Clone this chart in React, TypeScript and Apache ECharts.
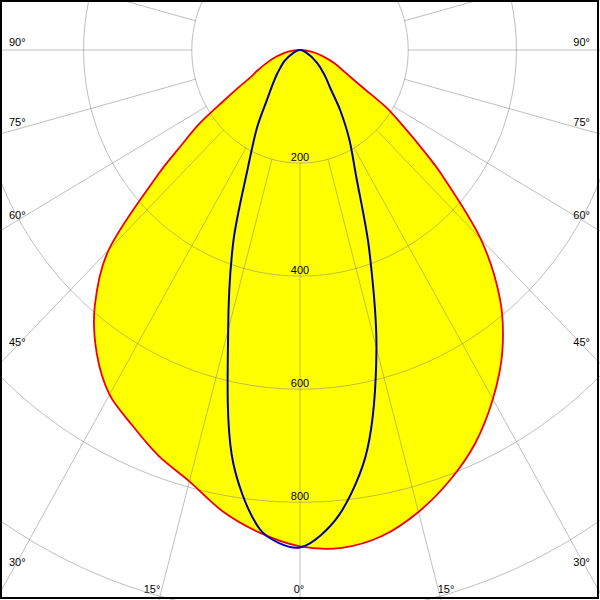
import React, { useEffect, useRef } from "react";
import * as echarts from "echarts";

// Polar angles (degrees from nadir); denser where the curves turn sharply
const angles = [0, 5, 10, 15, 20, 25, 30, 35, 40, 45, 50, 52.5, 55, 57.5, 60, 62.5, 65, 70, 75, 80, 85, 90];
// Red curve (filled): right half and left half intensities
const redRight = [878, 884, 873, 846, 810, 767, 713, 652, 575, 472, 340, 280, 230, 189, 137, 108, 90, 67, 45, 28, 13, 0];
const redLeft = [878, 857, 828, 790, 764, 733, 704, 655, 590, 500, 342, 276, 227, 167, 128, 101, 88, 64, 45, 29, 14, 0];
// Blue curve: right half and left half intensities
const blueRight = [880, 826, 717, 546, 373, 245, 182, 129, 86, 66, 50, 43, 36, 30, 25, 20, 16, 10, 6, 3, 1, 0];
const blueLeft = [880, 851, 727, 513, 360, 226, 159, 105, 78, 60, 46, 41, 36, 30, 25, 20, 16, 10, 6, 3, 1, 0];

// Grid
const ringValues = [200, 400, 600, 800, 1000];
const ringLabels = ["200", "400", "600", "800"];
const spokeAngles = [-180, -165, -150, -135, -120, -105, -90, -75, -60, -45, -30, -15, 0, 15, 30, 45, 60, 75, 90, 105, 120, 135, 150, 165];
const sideAngleLabels = ["90°", "75°", "60°", "45°", "30°"];
const bottomAngleLabels = ["15°", "0°", "15°"];

// axis extents (value units)
const X_MIN = -554.5;
const X_MAX = 554.5;
const Y_MIN = -88.45;
const Y_MAX = 972.9;

const FONT = '11px "Liberation Sans", Arial, sans-serif';
const GRID_STROKE = "rgba(128,128,128,0.5)";

export default function App() {
  const ref = useRef<HTMLDivElement>(null);

  useEffect(() => {
    document.body.style.margin = "0";
    if (!ref.current) return;
    const chart = echarts.init(ref.current, undefined, { renderer: "svg" });

    const renderItem = (params: any, api: any) => {
      const pt = (deg: number, r: number, side: number) => {
        const t = (deg * Math.PI) / 180;
        return api.coord([side * r * Math.sin(t), r * Math.cos(t)]);
      };
      const loop = (left: number[], right: number[]) => {
        const pts: number[][] = [];
        for (let i = angles.length - 1; i >= 0; i--) pts.push(pt(angles[i], left[i], -1));
        for (let i = 1; i < angles.length; i++) pts.push(pt(angles[i], right[i], 1));
        return pts;
      };
      const redPts = loop(redLeft, redRight);
      const bluePts = loop(blueLeft, blueRight);
      const o = api.coord([0, 0]);

      const rings = ringValues.map((r) => {
        const px = api.coord([r, 0]);
        const py = api.coord([0, r]);
        return {
          type: "ellipse",
          shape: { cx: o[0], cy: o[1], rx: px[0] - o[0], ry: py[1] - o[1] },
          style: { fill: "none", stroke: GRID_STROKE, lineWidth: 1 },
        };
      });
      const spokes = spokeAngles.map((a) => {
        const p1 = pt(a, 200, 1);
        const p2 = pt(a, 3000, 1);
        return {
          type: "line",
          shape: { x1: p1[0], y1: p1[1], x2: p2[0], y2: p2[1] },
          style: { stroke: GRID_STROKE, lineWidth: 1 },
        };
      });
      const labels = ringLabels.map((lab, i) => {
        const p = api.coord([0, ringValues[i]]);
        return {
          type: "text",
          x: p[0],
          y: p[1] - 6,
          style: {
            text: lab,
            font: FONT,
            fill: "#000",
            align: "center",
            verticalAlign: "middle",
            textAlign: "center",
            textVerticalAlign: "middle",
          },
        };
      });

      return {
        type: "group",
        children: [
          {
            type: "polygon",
            shape: { points: redPts, smooth: 0.3 },
            style: { fill: "#ffff00", stroke: "none" },
          },
          ...rings,
          ...spokes,
          ...labels,
          {
            type: "polygon",
            shape: { points: redPts, smooth: 0.3 },
            style: { fill: "none", stroke: "#ee0000", lineWidth: 1.8 },
          },
          {
            type: "polygon",
            shape: { points: bluePts, smooth: 0.3 },
            style: { fill: "none", stroke: "#0000b0", lineWidth: 2 },
          },
        ],
      };
    };

    const sideY = [42, 122, 215, 342, 562];
    const bottomX = [152, 299, 446];
    const textStyle = (text: string, align: string) => ({
      text,
      font: FONT,
      fill: "#000",
      align,
      verticalAlign: "middle",
      textAlign: align,
      textVerticalAlign: "middle",
    });
    const graphics: any[] = [];
    sideAngleLabels.forEach((t, i) => {
      graphics.push({ type: "text", x: 9, y: sideY[i], style: textStyle(t, "left") });
      graphics.push({ type: "text", x: 590, y: sideY[i], style: textStyle(t, "right") });
    });
    bottomAngleLabels.forEach((t, i) => {
      graphics.push({ type: "text", x: bottomX[i], y: 589, style: textStyle(t, "center") });
    });
    graphics.push({
      type: "rect",
      z: 100,
      shape: { x: 1, y: 1, width: 597, height: 597 },
      style: { fill: "none", stroke: "#000", lineWidth: 2 },
    });

    chart.setOption({
      animation: false,
      backgroundColor: "#ffffff",
      grid: { left: 0, top: 0, width: 600, height: 600 },
      xAxis: { type: "value", min: X_MIN, max: X_MAX, show: false },
      yAxis: { type: "value", min: Y_MIN, max: Y_MAX, inverse: true, show: false },
      series: [
        {
          type: "custom",
          renderItem,
          data: [[0, 0]],
          silent: true,
        },
      ],
      graphic: graphics,
    });

    return () => chart.dispose();
  }, []);

  return <div ref={ref} style={{ width: 600, height: 600 }} />;
}
